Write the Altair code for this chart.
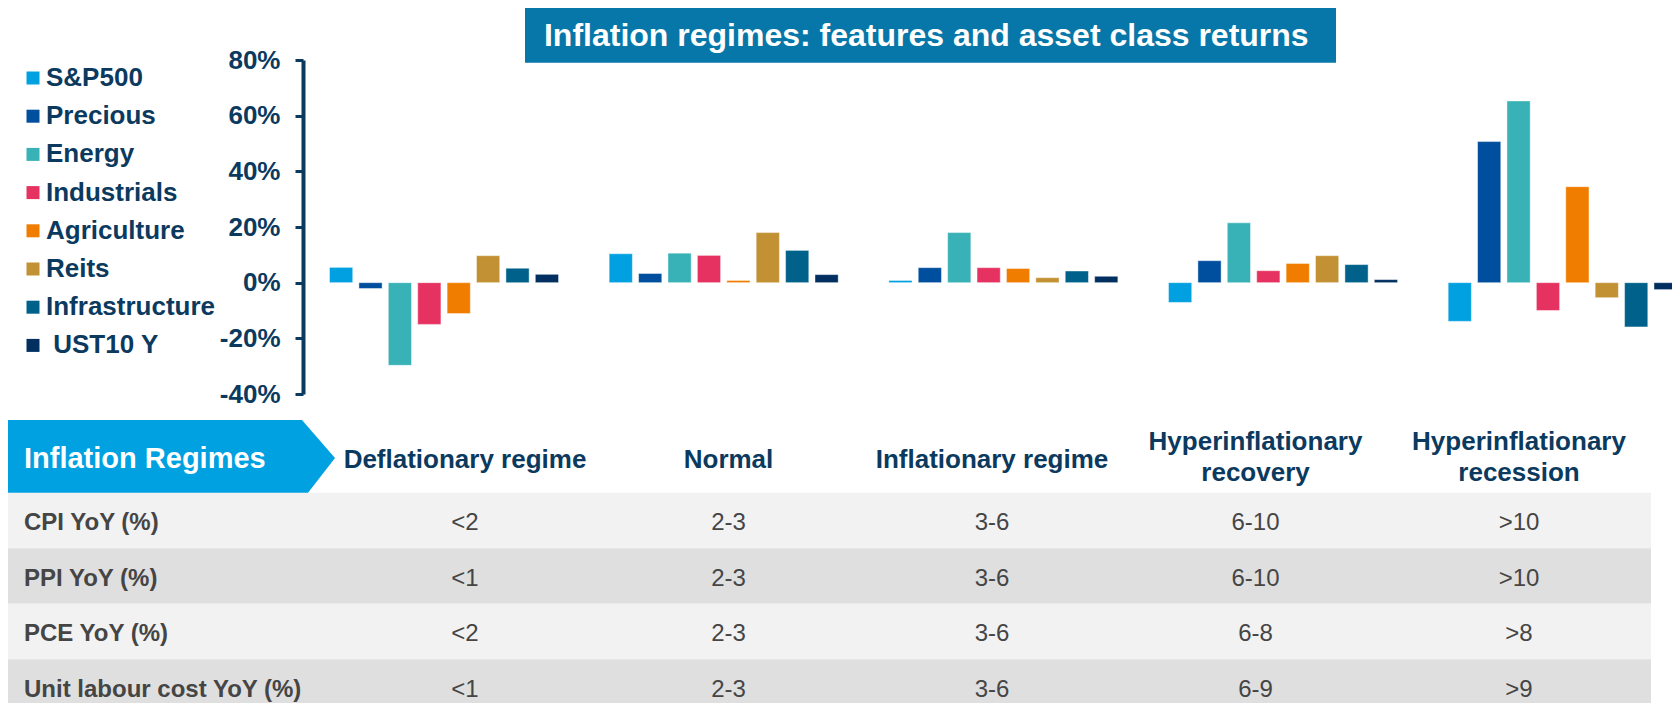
import altair as alt
import pandas as pd

# ---------------- data ----------------
regimes = ["Deflationary regime", "Normal", "Inflationary regime",
           "Hyperinflationary recovery", "Hyperinflationary recession"]
header_labels = ["Deflationary regime", "Normal", "Inflationary regime",
                 "Hyperinflationary\nrecovery", "Hyperinflationary\nrecession"]

series = ["S&P500", "Precious", "Energy", "Industrials", "Agriculture",
          "Reits", "Infrastructure", "\u200b\u00a0UST10 Y"]
sp500 = [5.5, 10.4, 0.8, -7.1, -13.9]
precious = [-2.1, 3.3, 5.4, 7.9, 50.7]
energy = [-29.7, 10.6, 18.0, 21.5, 65.3]
industrials = [-15.0, 9.8, 5.4, 4.3, -10.0]
agriculture = [-11.1, 0.8, 5.1, 6.9, 34.5]
reits = [9.7, 18.0, 1.8, 9.7, -5.4]
infrastructure = [5.2, 11.6, 4.2, 6.5, -15.9]
ust10y = [3.0, 2.9, 2.3, 1.1, -2.5]

y_ticks = [-40, -20, 0, 20, 40, 60, 80]

metrics = ["CPI YoY (%)", "PPI YoY (%)", "PCE YoY (%)", "Unit labour cost YoY (%)"]
cpi_yoy = ["<2", "2-3", "3-6", "6-10", ">10"]
ppi_yoy = ["<1", "2-3", "3-6", "6-10", ">10"]
pce_yoy = ["<2", "2-3", "3-6", "6-8", ">8"]
ulc_yoy = ["<1", "2-3", "3-6", "6-9", ">9"]

title_text = "Inflation regimes: features and asset class returns"
table_title = "Inflation Regimes"

# ---------------- styles ----------------
FONT = "Liberation Sans"
NAVY = "#0c3a5f"
GRAY_TXT = "#454545"
colors = ["#00a0e1", "#004f9f", "#38b2b6", "#e63260", "#f07d00",
          "#c29133", "#00628a", "#002f60"]

# ---------------- frames ----------------
series_values = [sp500, precious, energy, industrials, agriculture, reits,
                 infrastructure, ust10y]
bars_df = pd.DataFrame([
    {"regime": r, "series": s, "value": v}
    for s, vals in zip(series, series_values)
    for r, v in zip(regimes, vals)
])

metric_values = [cpi_yoy, ppi_yoy, pce_yoy, ulc_yoy]
table_df = pd.DataFrame([
    {"metric": m, "regime": r, "txt": t}
    for m, vals in zip(metrics, metric_values)
    for r, t in zip(regimes, vals)
])
rows_df = pd.DataFrame({"metric": metrics, "i": list(range(len(metrics)))})
header_df = pd.DataFrame({
    "regime": regimes,
    "label": header_labels,
    "lines": [len(lbl.split("\n")) for lbl in header_labels],
})
title_df = pd.DataFrame({"t": [title_text]})
ttl_df = pd.DataFrame({"t": [table_title]})

# ---------------- scales ----------------
col_scale = alt.Scale(type="point", domain=regimes, range=[457, 1511], padding=0)
row_scale = alt.Scale(type="band", domain=metrics, range=[484.7, 706.7],
                      paddingInner=0, paddingOuter=0)

# ---------------- layers ----------------
bars = alt.Chart(bars_df).mark_bar(
    stroke="white", strokeWidth=1, strokeOpacity=0.45
).encode(
    x=alt.X("regime:N", sort=regimes, axis=None,
            scale=alt.Scale(domain=regimes, range=[321.5, 1669.2],
                            paddingInner=0.181, paddingOuter=0)),
    xOffset=alt.XOffset("series:N", sort=series,
                        scale=alt.Scale(domain=series, paddingInner=0.21,
                                        paddingOuter=0)),
    y=alt.Y("value:Q",
            scale=alt.Scale(domain=[-40, 80], range=[386, 52], nice=False,
                            zero=False),
            axis=alt.Axis(values=y_ticks, labelExpr="datum.value + '%'",
                          offset=-295, grid=False, title=None,
                          domainColor=NAVY, domainWidth=4,
                          tickColor=NAVY, tickWidth=3, tickSize=8,
                          labelFont=FONT, labelFontSize=26,
                          labelFontWeight="bold", labelColor=NAVY,
                          labelPadding=15)),
    y2=alt.datum(0),
    color=alt.Color("series:N", sort=series,
                    scale=alt.Scale(domain=series, range=colors),
                    legend=alt.Legend(orient="none", legendX=12, legendY=57,
                                      title=None, padding=0,
                                      symbolType="square", symbolSize=169,
                                      symbolStrokeWidth=0, symbolOpacity=1,
                                      labelFont=FONT, labelFontSize=26,
                                      labelFontWeight="bold", labelColor=NAVY,
                                      labelOffset=0, rowPadding=12.2,
                                      labelLimit=400)),
)

title_box = alt.Chart(title_df).mark_rect(color="#0677a8").encode(
    x=alt.value(517), x2=alt.value(1328), y=alt.value(0), y2=alt.value(54.7)
)
title_lbl = alt.Chart(title_df).mark_text(
    font=FONT, fontSize=32, fontWeight="bold", color="white",
    align="center", baseline="alphabetic"
).encode(x=alt.value(918.3), y=alt.value(37.7), text="t:N")

row_bg = alt.Chart(rows_df).mark_rect().encode(
    y=alt.Y("metric:N", sort=metrics, axis=None, scale=row_scale),
    x=alt.value(0), x2=alt.value(1643),
    fill=alt.condition("datum.i % 2 == 0", alt.value("#f2f2f2"),
                       alt.value("#dfdfdf")),
)

arrow_path = ("M -1 -0.2223 L 0.798 -0.2223 L 1 0.01 L 0.835 0.2223 "
              "L -1 0.2223 Z")
arrow = alt.Chart(ttl_df).mark_point(
    shape=arrow_path, filled=True, size=327 * 327, color="#00a1e0",
    opacity=1, strokeWidth=0
).encode(x=alt.value(163.5), y=alt.value(448.35))

arrow_lbl = alt.Chart(ttl_df).mark_text(
    font=FONT, fontSize=29, fontWeight="bold", color="white",
    align="left", baseline="alphabetic"
).encode(x=alt.value(16), y=alt.value(460.4), text="t:N")

headers = alt.Chart(header_df).mark_text(
    font=FONT, fontSize=26, fontWeight="bold", color=NAVY,
    align="center", baseline="middle", lineBreak="\n", lineHeight=31
).encode(
    x=alt.X("regime:N", sort=regimes, axis=None, scale=col_scale),
    y=alt.Y("lines:Q", axis=None,
            scale=alt.Scale(domain=[1, 2], range=[452.1, 434.2], zero=False,
                            nice=False)),
    text="label:N",
)

row_lbls = alt.Chart(rows_df).mark_text(
    font=FONT, fontSize=24, fontWeight="bold", color=GRAY_TXT,
    align="left", baseline="middle", dy=3
).encode(
    y=alt.Y("metric:N", sort=metrics, axis=None, scale=row_scale),
    x=alt.value(16),
    text="metric:N",
)

cells = alt.Chart(table_df).mark_text(
    font=FONT, fontSize=24, color=GRAY_TXT, align="center", baseline="middle",
    dy=3
).encode(
    x=alt.X("regime:N", sort=regimes, axis=None, scale=col_scale),
    y=alt.Y("metric:N", sort=metrics, axis=None, scale=row_scale),
    text="txt:N",
)

chart = alt.layer(
    row_bg, arrow, arrow_lbl, headers, row_lbls, cells,
    title_box, title_lbl, bars
).resolve_scale(
    x="independent", y="independent"
).properties(
    width=1664, height=695, padding=0,
    autosize=alt.AutoSizeParams(type="none"),
).configure_view(stroke=None)

chart.save("out.html", embed_options={"renderer": "svg", "actions": False})
